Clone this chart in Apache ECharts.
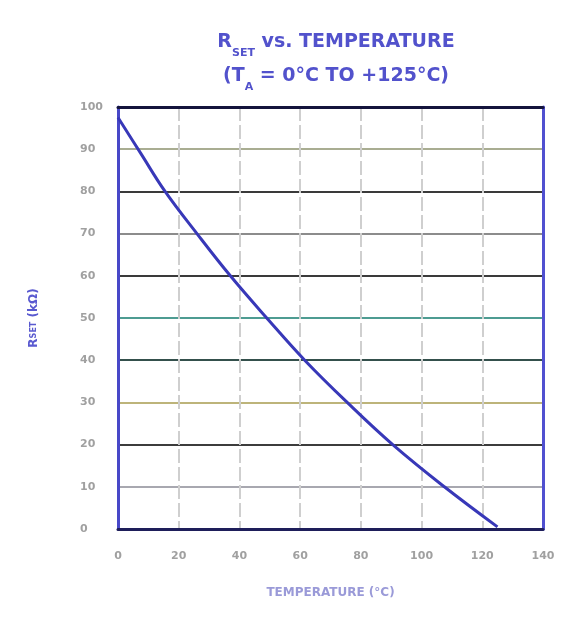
<!DOCTYPE html>
<html>
<head>
<meta charset="utf-8">
<script src="https://cdn.jsdelivr.net/npm/echarts@6/dist/echarts.min.js"></script>
<style>
  html, body { margin: 0; padding: 0; background: #fff; }
  #chart { width: 564px; height: 628px; }
</style>
</head>
<body>
<div id="chart"></div>
<script>
  // temperature (°C) and RSET (kΩ)
  var temps = [0, 7.5, 15.5, 26, 37, 49, 61.5, 75.5, 90.5, 107.5, 125];
  var rset = [97.5, 89, 80, 70, 60, 50, 40, 30, 20, 10, 0.5];
  var xTicks = [0, 20, 40, 60, 80, 100, 120, 140];
  var yTicks = [0, 10, 20, 30, 40, 50, 60, 70, 80, 90, 100];

  // horizontal grid colours, one per tick from 0 up
  var hGridColors = ['#ffffff', '#a8a8b0', '#3c3c3c', '#bdb47a', '#34504c',
                     '#4e9c92', '#3a3a3a', '#8c8c8c', '#3a3a3a', '#a9ad92', '#ffffff'];

  var points = temps.map(function (t, i) { return [t, rset[i]]; });

  var myChart = echarts.init(document.getElementById('chart'));
  var labelStyle = { color: '#a0a0a0', fontSize: 11, fontFamily: 'DejaVu Sans', fontWeight: 'bold' };

  var option = {
    animation: false,
    title: {
      left: 331,
      top: 20,
      textAlign: 'center',
      text: 'R{sub|SET} vs. TEMPERATURE\n(T{sub|A} = 0°C TO +125°C)',
      textStyle: {
        color: '#5252cc',
        fontSize: 19,
        fontWeight: 'bold',
        fontFamily: 'DejaVu Sans',
        lineHeight: 34,
        rich: {
          sub: { fontSize: 11, fontWeight: 'bold', color: '#5252cc', verticalAlign: 'bottom', padding: [10, 0, 0, 0] }
        }
      }
    },
    grid: { left: 118, right: 21, top: 107, bottom: 99 },
    xAxis: [{
      type: 'value',
      min: 0, max: 140, interval: 20,
      name: 'TEMPERATURE (°C)',
      nameLocation: 'middle',
      nameGap: 58,
      nameTextStyle: { color: '#9a9ad8', fontSize: 12, fontWeight: 'bold', fontFamily: 'DejaVu Sans' },
      axisLine: { show: true, lineStyle: { color: '#1e1e5a', width: 3 } },
      axisTick: { show: false },
      axisLabel: Object.assign({ margin: 22 }, labelStyle),
      splitLine: { show: true, lineStyle: { color: '#cfcfcf', width: 2, type: [14, 4] } }
    }, {
      type: 'value', position: 'top',
      min: 0, max: 140, interval: 20,
      axisLine: { show: true, onZero: false, lineStyle: { color: '#14143c', width: 3 } },
      axisTick: { show: false }, axisLabel: { show: false }, splitLine: { show: false }
    }],
    yAxis: [{
      type: 'value',
      min: 0, max: 100, interval: 10,
      name: 'R{sub|SET} (kΩ)',
      nameLocation: 'middle',
      nameGap: 78,
      nameTextStyle: {
        color: '#5a5ad0', fontSize: 12, fontWeight: 'bold', fontFamily: 'DejaVu Sans',
        rich: { sub: { fontSize: 8, color: '#5a5ad0', fontWeight: 'bold' } }
      },
      axisLine: { show: true, lineStyle: { color: '#4848c8', width: 3 } },
      axisTick: { show: false },
      axisLabel: Object.assign({ margin: 38, align: 'left' }, labelStyle),
      splitLine: { show: true, lineStyle: { color: hGridColors, width: 2 } }
    }, {
      type: 'value', position: 'right',
      min: 0, max: 100, interval: 10,
      axisLine: { show: true, onZero: false, lineStyle: { color: '#5050d0', width: 3 } },
      axisTick: { show: false }, axisLabel: { show: false }, splitLine: { show: false }
    }],
    series: [{
      type: 'line',
      data: points,
      smooth: 0.4,
      symbol: 'none',
      lineStyle: { color: '#3838b8', width: 3 }
    }]
  };

  myChart.setOption(option);
</script>
</body>
</html>
